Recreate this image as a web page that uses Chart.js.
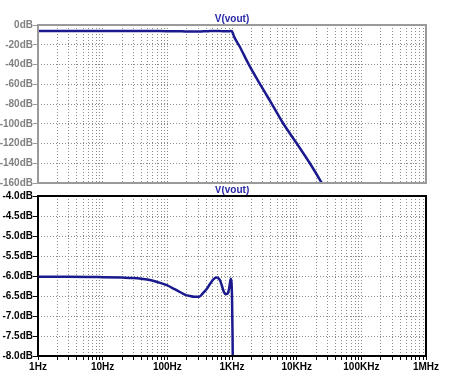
<!DOCTYPE html>
<html lang="en">
<head>
  <meta charset="UTF-8">
  <title>V(vout)</title>
  <script src="https://cdn.jsdelivr.net/npm/chart.js"></script>
  <style>
    body { margin: 0; background: #fff; }
    canvas { position: absolute; left: 0; }
  </style>
</head>
<body>
  <canvas id="magChart" width="450" height="190" style="top:0"></canvas>
  <canvas id="zoomChart" width="450" height="191" style="top:186px"></canvas>

  <script>
    // V(vout): frequency (Hz) and magnitude (dB)
    const freqs = [1, 3, 10, 20, 30, 40, 54, 70, 98, 130, 157, 190, 224, 260, 311, 356, 400, 456, 520, 576,
                   620, 650, 700, 750, 790, 830, 870, 906, 935, 962, 985, 1000, 1020, 1045, 1100,
                   1320, 1780, 2865, 4080, 6170, 10000, 16000, 24300, 30000];
    const vout = [-6.02, -6.02, -6.03, -6.04, -6.05, -6.07, -6.1, -6.15, -6.23, -6.33, -6.4, -6.47, -6.5, -6.52, -6.52, -6.43, -6.34, -6.2, -6.08, -6.04,
                  -6.06, -6.1, -6.25, -6.4, -6.45, -6.45, -6.42, -6.3, -6.15, -6.07, -6.2, -6.5, -7.5, -9.5, -13,
                  -22, -38.8, -62.5, -79.3, -99.5, -119.8, -140, -159.7, -170];

    const decadeLabels = ['1Hz', '10Hz', '100Hz', '1KHz', '10KHz', '100KHz', '1MHz'];
    const topYTicks = [0, -20, -40, -60, -80, -100, -120, -140, -160];
    const bottomYTicks = [-4.0, -4.5, -5.0, -5.5, -6.0, -6.5, -7.0, -7.5, -8.0];

    // 1,2,...9 per decade for the log grid
    const logTicks = [];
    for (let k = 0; k < 6; k++) {
      for (let m = 1; m < 10; m++) logTicks.push(m * Math.pow(10, k));
    }
    logTicks.push(1e6);

    const points = freqs.map((f, i) => ({ x: f, y: vout[i] }));
    const FONT = '"Liberation Sans", Arial, sans-serif';

    const framePlugin = {
      id: 'frame',
      afterDatasetsDraw(chart, args, opts) {
        const { ctx, chartArea: a } = chart;
        ctx.save();
        ctx.strokeStyle = opts.color;
        ctx.lineWidth = 2;
        ctx.strokeRect(a.left, a.top, a.right - a.left, a.bottom - a.top);
        ctx.fillStyle = '#2828a8';
        ctx.font = 'bold 10px ' + FONT;
        ctx.textAlign = 'center';
        ctx.textBaseline = 'middle';
        ctx.fillText('V(vout)', (a.left + a.right) / 2, a.top - 6);
        ctx.restore();
      }
    };

    function makeChart(id, cfg) {
      return new Chart(document.getElementById(id).getContext('2d'), {
        type: 'line',
        data: {
          datasets: [{
            data: points,
            borderColor: '#1a1a8e',
            borderWidth: 2.5,
            pointRadius: 0,
            cubicInterpolationMode: 'monotone'
          }]
        },
        options: {
          responsive: false,
          animation: false,
          layout: { padding: { top: cfg.top, right: 24, left: 0, bottom: 0 } },
          plugins: {
            legend: { display: false },
            tooltip: { enabled: false },
            frame: { color: cfg.frame }
          },
          scales: {
            x: {
              type: 'logarithmic',
              min: 1,
              max: 1e6,
              afterBuildTicks: s => { s.ticks = logTicks.map(v => ({ value: v })); },
              afterFit: s => { s.height = cfg.xHeight; },
              border: { display: false, dash: [1, 2] },
              grid: { color: '#8c8c8c', drawTicks: cfg.xLabels, tickLength: 4, tickColor: cfg.frame },
              ticks: {
                display: cfg.xLabels,
                autoSkip: false,
                maxRotation: 0,
                padding: 1,
                color: cfg.text,
                font: { family: FONT, size: 10, weight: 'bold' },
                callback: v => {
                  const d = Math.log10(v);
                  return Math.abs(d - Math.round(d)) < 1e-9 ? decadeLabels[Math.round(d)] : '';
                }
              }
            },
            y: {
              min: cfg.yTicks[cfg.yTicks.length - 1],
              max: cfg.yTicks[0],
              afterBuildTicks: s => { s.ticks = cfg.yTicks.map(v => ({ value: v })); },
              afterFit: s => { s.width = 38; },
              border: { display: false, dash: [1, 2] },
              grid: { color: '#8c8c8c', tickLength: 5, tickColor: cfg.frame },
              ticks: {
                padding: 0,
                color: cfg.text,
                font: { family: FONT, size: 10, weight: 'bold' },
                callback: cfg.fmt
              }
            }
          }
        },
        plugins: [framePlugin]
      });
    }

    makeChart('magChart', {
      top: 25, xHeight: 7, xLabels: false, yTicks: topYTicks,
      frame: '#9a9a9a', text: '#808080', fmt: v => v + 'dB'
    });

    makeChart('zoomChart', {
      top: 10, xHeight: 21, xLabels: true, yTicks: bottomYTicks,
      frame: '#000', text: '#000', fmt: v => v.toFixed(1) + 'dB'
    });
  </script>
</body>
</html>
